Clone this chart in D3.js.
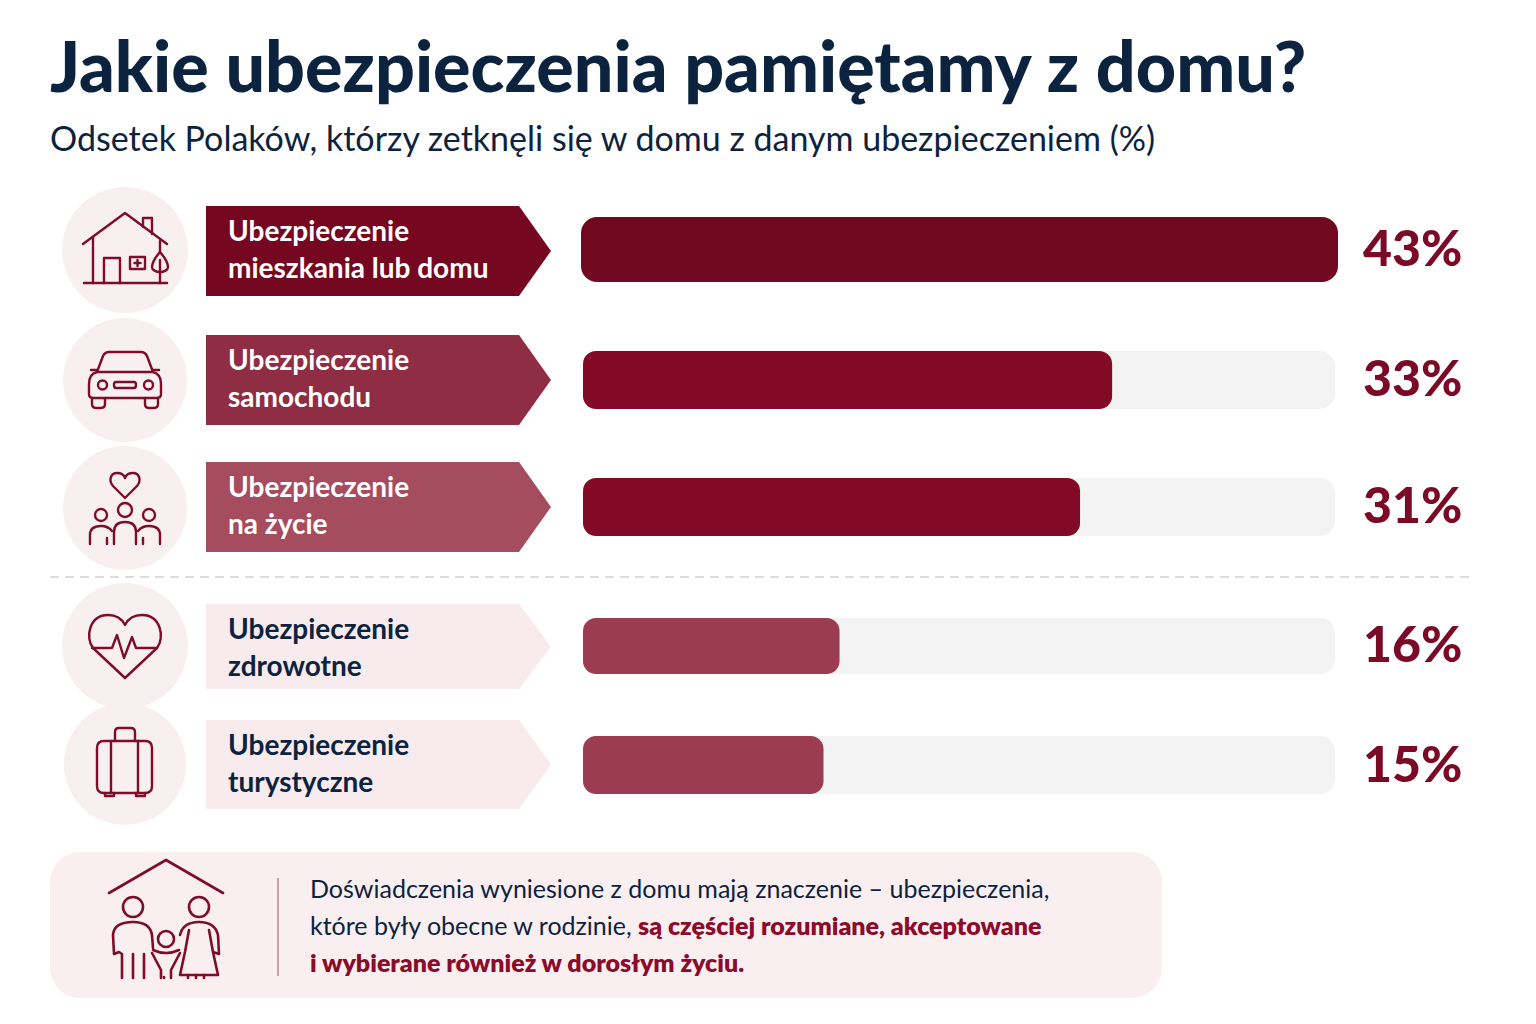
<!DOCTYPE html>
<html lang="pl"><head><meta charset="utf-8">
<script src="https://cdn.jsdelivr.net/npm/d3@7"></script>
<style>html,body{margin:0;background:#fff}svg{display:block}text{font-family:Lato,sans-serif}</style>
</head><body><svg id="c" width="1536" height="1024"></svg>
<script>
const titleText = "Jakie ubezpieczenia pamiętamy z domu?";
const subtitleText = "Odsetek Polaków, którzy zetknęli się w domu z danym ubezpieczeniem (%)";
const labelLine1 = ["Ubezpieczenie","Ubezpieczenie","Ubezpieczenie","Ubezpieczenie","Ubezpieczenie"];
const labelLine2 = ["mieszkania lub domu","samochodu","na życie","zdrowotne","turystyczne"];
const values = [43,33,31,16,15];
const iconNames = ["house","car","family","heart","case"];
const calloutLines = [
 [["Doświadczenia wyniesione z domu mają znaczenie – ubezpieczenia,",false]],
 [["które były obecne w rodzinie, ",false],["są częściej rozumiane, akceptowane",true]],
 [["i wybierane również w dorosłym życiu.",true]]
];

const rowCY   = [250,380,508,646,764];
const circleR = [63,62,62,63,61];
const chevTop = [206,335,462,604,720];
const chevBot = [296,425,552,689,809];
const barTop  = [217,351,478,618,736];
const barBot  = [282,409,536,674,794];
const chevFill= ["#750720","#8e2d43","#a54c5f","#f8ebed","#f8ebed"];
const barFill = ["#720820","#820a26","#820a26","#9b3c50","#9b3c50"];
const labelFill=["#fff","#fff","#fff","#0c2340","#0c2340"];
const valueBase=[266,396,523,662,782];

const svg = d3.select("#c");
const x = d3.scaleLinear().domain([0,46.9]).range([583,1335]);
const xTop = d3.scaleLinear().domain([0,43]).range([581,1338]); // top row fills the whole track

const DARK="#7a0a26", NAVY="#0c2340", ICON="#7d0d28";

svg.append("text").attr("x",50).attr("y",92).text(titleText)
 .attr("font-size",70).attr("font-weight",900).attr("fill",NAVY);
svg.append("text").attr("x",50).attr("y",151).text(subtitleText)
 .attr("font-size",34).attr("font-weight",400).attr("fill",NAVY);

const rows = svg.selectAll("g.row").data(values).join("g").attr("class","row");
rows.append("circle").attr("cx",125).attr("cy",(d,i)=>rowCY[i]).attr("r",(d,i)=>circleR[i]).attr("fill","#f8eff0");
rows.append("path").attr("fill",(d,i)=>chevFill[i]).attr("d",(d,i)=>{
  const t=chevTop[i],b=chevBot[i],m=(t+b)/2;
  return `M206,${t}H519L551,${m}L519,${b}H206Z`;
});
rows.append("text").attr("x",228).attr("y",(d,i)=>chevTop[i]+35).text((d,i)=>labelLine1[i])
  .attr("font-size",28).attr("font-weight",700).attr("fill",(d,i)=>labelFill[i]);
rows.append("text").attr("x",228).attr("y",(d,i)=>chevTop[i]+72).text((d,i)=>labelLine2[i])
  .attr("font-size",28).attr("font-weight",700).attr("fill",(d,i)=>labelFill[i]);
rows.filter((d,i)=>i>0).append("rect").attr("x",x(0)).attr("width",x(46.9)-x(0))
  .attr("y",function(d){return barTop[values.indexOf(d)]}).attr("height",function(d){const i=values.indexOf(d);return barBot[i]-barTop[i]})
  .attr("rx",15).attr("fill","#f3f3f4");
rows.append("rect").attr("x",(d,i)=>i?x(0):xTop(0)).attr("width",(d,i)=>i?x(d)-x(0):xTop(d)-xTop(0))
  .attr("y",(d,i)=>barTop[i]).attr("height",(d,i)=>barBot[i]-barTop[i])
  .attr("rx",(d,i)=>i?13:16).attr("fill",(d,i)=>barFill[i]);
rows.append("text").attr("x",1363).attr("y",(d,i)=>valueBase[i]).text(d=>d+"%")
  .attr("font-size",50).attr("font-weight",900).attr("fill",DARK);

svg.append("line").attr("x1",50).attr("x2",1469).attr("y1",577).attr("y2",577)
 .attr("stroke","#dcdcdc").attr("stroke-width",2).attr("stroke-dasharray","9 6");

const icons = {
 house:["M-42,-6L0,-37L42,-6","M-32,-13V33","M-41,33H42","M-21,33V8H-5V33","M5,7H20V19H5Z","M18,-23V-32H27V-16","M35,-9V2","M35,2C29,9 27,14 27,17C27,20 31,22 35,22C39,22 43,20 43,17C43,14 41,9 35,2Z","M35,10V33","M12.5,10V16M9.5,13H15.5"],
 car:["M-28,-8L-22,-24Q-20,-28 -16,-28H16Q20,-28 22,-24L28,-8","M-28,-8H28Q36,-6 36,4V14Q36,18 32,18H-32Q-36,18 -36,14V4Q-36,-6 -28,-8Z","M-33,18V24Q-33,28 -29,28H-24Q-20,28 -20,24V18","M20,18V24Q20,28 24,28H29Q33,28 33,24V18","M-28,-10H-34M28,-10H34","M-9,2H9Q11,2 11,5Q11,8 9,8H-9Q-11,8 -11,5Q-11,2 -9,2Z","M-27,5a4.5,4.5 0 1,0 9,0a4.5,4.5 0 1,0 -9,0","M19,5a4.5,4.5 0 1,0 9,0a4.5,4.5 0 1,0 -9,0"],
 family:["M0,-10L-12,-22C-17,-28 -14,-35 -8,-35C-4,-35 -1,-33 0,-30C1,-33 4,-35 8,-35C14,-35 17,-28 12,-22Z","M-7,2a7,7 0 1,0 14,0a7,7 0 1,0 -14,0","M-30,7a6,6 0 1,0 12,0a6,6 0 1,0 -12,0","M18,7a6,6 0 1,0 12,0a6,6 0 1,0 -12,0","M-11,36V24Q-11,14 0,14Q11,14 11,24V36","M-35,36V27Q-35,18 -24,18Q-17,18 -13,23","M35,36V27Q35,18 24,18Q17,18 13,23","M-18,36V30","M18,36V30"],
 heart:["M0,32L-32,2C-40,-8 -36,-31 -17,-31C-8,-31 -3,-27 0,-21C3,-27 8,-31 17,-31C36,-31 40,-8 32,2Z","M-33,2H-13L-8,-11L-1,12L7,-9L11,2H32"],
 case:["M-21,-23H20Q27,-23 27,-16V22Q27,29 20,29H-21Q-28,29 -28,22V-16Q-28,-23 -21,-23Z","M-10,-23V-32Q-10,-36 -6,-36H6Q10,-36 10,-32V-23","M-14,-23V29","M13,-23V29","M-20,29V32H-11V29","M11,29V32H20V29"]
};
rows.append("g").attr("transform",(d,i)=>`translate(125,${rowCY[i]})`)
 .selectAll("path").data((d,i)=>icons[iconNames[i]]).join("path").attr("d",d=>d)
 .attr("fill","none").attr("stroke",ICON).attr("stroke-width",2.4).attr("stroke-linejoin","round").attr("stroke-linecap","round");

svg.append("rect").attr("x",50).attr("y",852).attr("width",1112).attr("height",146).attr("rx",30).attr("fill","#f9eff0");
svg.append("line").attr("x1",278).attr("x2",278).attr("y1",878).attr("y2",976).attr("stroke","#b98a95").attr("stroke-width",1.5);
const fam=["M-57,-27L0,-60L57,-27","M-43,-13a10,10 0 1,0 20,0a10,10 0 1,0 -20,0","M23,-13a10,10 0 1,0 20,0a10,10 0 1,0 -20,0","M-8,19a8,8 0 1,0 16,0a8,8 0 1,0 -16,0",
"M-44,58V34L-47,32L-52,34L-53,15Q-52,2 -33,2Q-16,2 -14,15L-13,28","M-33,58V34","M-22,58V34","M-14,33L-5,50V58","M14,33L5,50V58","M-13,30Q0,36 13,30","M-2,58V57",
"M14,15Q17,2 33,2Q49,2 52,15L53,34L47,32L43,10M23,10L19,32L14,55H52L47,32","M22,55V58M30,55V58M38,55V58"];
svg.append("g").attr("transform","translate(166,920)").selectAll("path").data(fam).join("path").attr("d",d=>d)
 .attr("fill","none").attr("stroke",ICON).attr("stroke-width",2.6).attr("stroke-linejoin","round").attr("stroke-linecap","round");

const calloutBase=[898,935,972];
svg.selectAll("text.call").data(calloutLines).join("text").attr("class","call")
 .attr("x",310).attr("y",(d,i)=>calloutBase[i]).attr("font-size",25)
 .selectAll("tspan").data(d=>d).join("tspan").text(d=>d[0])
 .attr("font-weight",d=>d[1]?800:400).attr("fill",d=>d[1]?"#8a0c2a":NAVY);

// report widths for tuning
const w=[];svg.selectAll("text").each(function(){w.push(Math.round(this.getComputedTextLength()))});
document.title=w.join(",");
</script></body></html>
